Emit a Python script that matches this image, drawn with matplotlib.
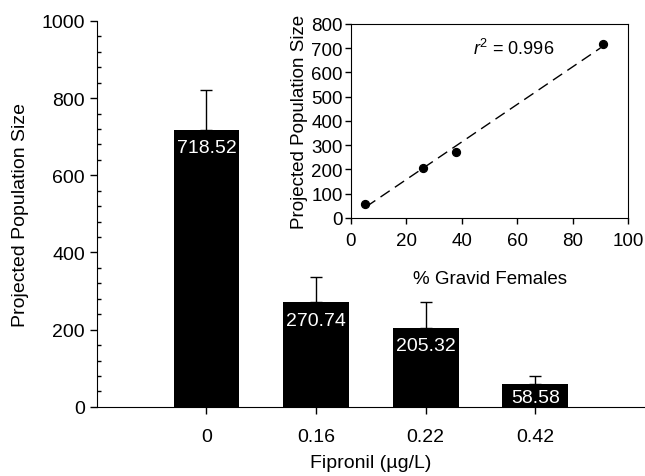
import matplotlib
matplotlib.use("Agg")
import matplotlib.pyplot as plt
import numpy as np
from matplotlib.ticker import MultipleLocator

plt.rcParams['font.family'] = ['Liberation Sans', 'DejaVu Sans']
plt.rcParams['mathtext.fontset'] = 'custom'
plt.rcParams['mathtext.rm'] = 'Liberation Sans'
plt.rcParams['mathtext.it'] = 'Liberation Sans:italic'

# main bar chart data
doses = ["0", "0.16", "0.22", "0.42"]
pop_size = [718.52, 270.74, 205.32, 58.58]
pop_err = [102, 66, 67, 22]

# inset: % gravid females vs projected population size
gravid = [5, 26, 38, 91]
inset_pop = [58.58, 205.32, 270.74, 718.52]

fig = plt.figure(figsize=(6.45, 4.77), dpi=100)
ax = fig.add_axes([0.150, 0.145, 0.85, 0.809])

x = np.arange(len(doses))
ax.bar(x, pop_size, width=0.6, color='black', zorder=2)
ax.errorbar(x, pop_size, yerr=[np.zeros(len(pop_err)), pop_err], fmt='none',
            ecolor='black', elinewidth=1, capsize=4.5, capthick=1, zorder=1)
for xi, v in zip(x, pop_size):
    off = -13 if v > 100 else -9.5   # short bar: keep label inside
    ax.annotate(f"{v:.2f}", (xi, v), xytext=(0, off), textcoords='offset points',
                ha='center', va='center', color='white', fontsize=14, zorder=3)

ax.set_xlim(-1, 4)
ax.set_ylim(0, 1000)
ax.set_xticks(x)
ax.set_xticklabels(doses)
ax.yaxis.set_major_locator(MultipleLocator(200))
ax.yaxis.set_minor_locator(MultipleLocator(40))
ax.tick_params(axis='both', which='major', direction='out', length=5, width=1, labelsize=14)
ax.tick_params(axis='y', which='minor', direction='in', length=3, width=1)
ax.tick_params(axis='x', pad=10)
ax.spines['top'].set_visible(False)
ax.spines['right'].set_visible(False)
ax.set_xlabel("Fipronil (µg/L)", fontsize=14, labelpad=7)
ax.set_ylabel("Projected Population Size", fontsize=14, labelpad=9)

# inset
ins = fig.add_axes([0.544, 0.541, 0.430, 0.407])
ins.scatter(gravid, inset_pop, s=32, color='black', zorder=3)
slope, icpt = np.polyfit(gravid, inset_pop, 1)
xf = np.array([5.5, 90])
ins.plot(xf, slope * xf + icpt, color='black', ls=(0, (8, 4.5)), lw=1)
ins.text(44, 700, r"$r^2$ = 0.996", fontsize=13, ha='left', va='center')
ins.set_xlim(0, 100)
ins.set_ylim(0, 800)
ins.xaxis.set_major_locator(MultipleLocator(20))
ins.yaxis.set_major_locator(MultipleLocator(100))
ins.tick_params(axis='both', direction='out', length=4, width=1, labelsize=13.5)
ins.tick_params(axis='x', pad=6)
ins.tick_params(axis='y', pad=2)
ins.set_xlabel("% Gravid Females", fontsize=13.5, labelpad=15)
ins.set_ylabel("Projected Population Size", fontsize=13.5, labelpad=2)

plt.savefig("out.png", dpi=100)
